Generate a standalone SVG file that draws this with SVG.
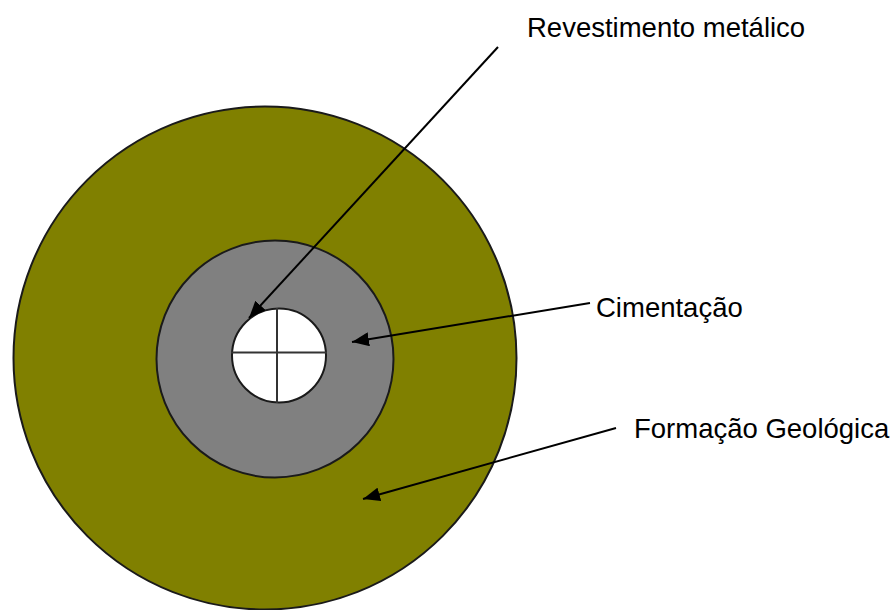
<svg xmlns="http://www.w3.org/2000/svg" width="894" height="610" viewBox="0 0 894 610">
<defs><marker id="a" markerUnits="userSpaceOnUse" markerWidth="18" markerHeight="14" refX="17" refY="7" orient="auto"><path d="M0 0L17 7L0 14Z" fill="#000"/></marker></defs>
<style>text{font-family:"Liberation Sans",Arial,sans-serif;font-size:27.500px;fill:#000}.c{stroke:#1a1a1a;stroke-width:2}.l{stroke:#000;stroke-width:2;fill:none}.x{stroke:#333;stroke-width:2;fill:none}</style>
<rect width="894" height="610" fill="#fff"/>
<g id="formacao"><circle class="c" cx="265" cy="358" r="251.500" fill="#808000"/></g>
<g id="cimentacao"><circle class="c" cx="275" cy="359" r="118.500" fill="#808080"/></g>
<g id="revestimento"><circle class="c" cx="279" cy="355.500" r="47" fill="#fff"/><path class="x" d="M231 352.500H327M277 308V403"/></g>
<g id="connectors"><path class="l" marker-end="url(#a)" d="M498 47L249 318"/><path class="l" marker-end="url(#a)" d="M590 303L352 342"/><path class="l" marker-end="url(#a)" d="M616 428L363 499"/></g>
<text x="527" y="37">Revestimento metálico</text>
<text x="596" y="317">Cimentação</text>
<text x="634" y="438">Formação Geológica</text>
</svg>
